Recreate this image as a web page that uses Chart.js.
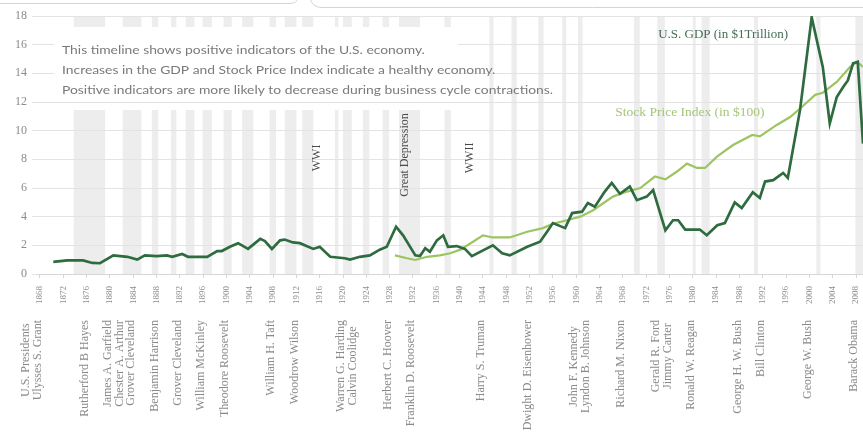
<!DOCTYPE html>
<html>
<head>
<meta charset="utf-8">
<script src="https://cdn.jsdelivr.net/npm/chart.js@4/dist/chart.umd.min.js"></script>
<style>
  html, body { margin: 0; padding: 0; background: #fff; }
  #c { display: block; }
</style>
</head>
<body>
<canvas id="c" width="863" height="432"></canvas>
<script>
// Election years along the time axis
const tickYears = [1868, 1872, 1876, 1880, 1884, 1888, 1892, 1896, 1900, 1904, 1908, 1912,
  1916, 1920, 1924, 1928, 1932, 1936, 1940, 1944, 1948, 1952, 1956, 1960, 1964, 1968,
  1972, 1976, 1980, 1984, 1988, 1992, 1996, 2000, 2004, 2008];

// U.S. GDP, trillions of dollars
const gdpYears = [1870.3, 1872.7, 1875.4, 1877.0, 1878.3, 1880.6, 1883.0, 1884.7, 1886.0, 1888.0,
  1889.8, 1890.7, 1892.4, 1893.4, 1896.7, 1898.4, 1899.2, 1900.6, 1902.0, 1903.7,
  1905.8, 1906.6, 1907.8, 1909.2, 1910.0, 1911.4, 1912.6, 1914.9, 1916.0, 1917.8,
  1920.3, 1921.2, 1922.9, 1924.6, 1926.3, 1927.5, 1929.1, 1930.3, 1932.4, 1933.2,
  1934.1, 1934.9, 1936.1, 1937.2, 1938.0, 1939.5, 1940.9, 1942.1, 1945.7, 1947.3,
  1948.6, 1951.6, 1953.8, 1955.0, 1956.0, 1958.1, 1959.3, 1961.0, 1962.0, 1963.2,
  1964.9, 1966.1, 1967.5, 1969.2, 1970.4, 1972.1, 1973.2, 1975.3, 1976.6, 1977.5,
  1978.7, 1981.2, 1982.4, 1984.2, 1985.5, 1987.2, 1988.4, 1990.3, 1991.5, 1992.4,
  1993.8, 1995.5, 1996.3, 1998.4, 2000.4, 2002.3, 2003.5, 2004.7, 2005.8, 2006.6,
  2007.5, 2008.3, 2009.2];
const gdpValues = [0.84, 0.95, 0.95, 0.77, 0.75, 1.3, 1.2, 1.0, 1.3, 1.25,
  1.3, 1.2, 1.4, 1.2, 1.2, 1.6, 1.6, 1.9, 2.15, 1.75,
  2.45, 2.3, 1.75, 2.35, 2.4, 2.2, 2.15, 1.75, 1.9, 1.2,
  1.1, 1.0, 1.2, 1.3, 1.7, 1.9, 3.3, 2.7, 1.3, 1.25,
  1.8, 1.55, 2.35, 2.7, 1.9, 1.95, 1.75, 1.25, 2.0, 1.45,
  1.3, 1.9, 2.25, 2.95, 3.55, 3.2, 4.25, 4.35, 4.95, 4.7,
  5.75, 6.35, 5.6, 6.1, 5.15, 5.4, 5.85, 3.05, 3.75, 3.75,
  3.1, 3.1, 2.7, 3.4, 3.55, 5.0, 4.6, 5.7, 5.3, 6.45,
  6.55, 7.05, 6.7, 11.45, 17.9, 14.45, 10.5, 12.35, 13.05, 13.5,
  14.7, 14.8, 9.1];

// Stock Price Index, hundreds of dollars
const stockYears = [1928.9, 1931.0, 1932.4, 1934.4, 1936.6, 1938.4, 1940.1, 1942.3, 1944.0, 1945.7,
  1948.6, 1951.6, 1954.3, 1956.0, 1958.4, 1960.7, 1962.9, 1966.3, 1968.7, 1971.0,
  1973.5, 1975.3, 1977.3, 1979.0, 1980.7, 1982.1, 1984.2, 1986.9, 1990.2, 1991.5,
  1994.4, 1996.7, 1998.7, 2001.0, 2002.3, 2004.7, 2007.0, 2008.2, 2009.2];
const stockValues = [1.3, 1.1, 0.98, 1.2, 1.3, 1.45, 1.7, 2.25, 2.7, 2.55,
  2.55, 2.95, 3.2, 3.5, 3.75, 4.0, 4.45, 5.4, 5.75, 6.0,
  6.8, 6.6, 7.15, 7.7, 7.4, 7.4, 8.2, 9.0, 9.7, 9.6,
  10.4, 10.95, 11.65, 12.5, 12.65, 13.4, 14.45, 14.8, 14.45];

// Business cycle contractions (start, end)
const recessionStart = [1873.8, 1882.2, 1887.2, 1890.5, 1893.0, 1895.9, 1899.5, 1902.7, 1907.4, 1910.0,
  1913.0, 1918.6, 1920.0, 1923.4, 1926.8, 1929.6, 1937.4, 1945.1, 1948.9, 1953.5,
  1957.6, 1960.3, 1969.9, 1973.9, 1980.0, 1981.5, 1990.5, 2001.2, 2007.9];
const recessionEnd = [1879.2, 1885.4, 1888.3, 1891.4, 1894.5, 1897.5, 1900.9, 1904.6, 1908.5, 1912.0,
  1914.9, 1919.2, 1921.5, 1924.5, 1927.9, 1933.2, 1938.5, 1945.8, 1949.8, 1954.4,
  1958.3, 1961.1, 1970.9, 1975.2, 1980.5, 1982.9, 1991.2, 2001.9, 2009.5];

// Presidents, grouped by the election tick they sit under
const presidentTicks = [1868, 1876, 1880, 1884, 1888, 1892, 1896, 1900, 1908, 1912, 1920, 1928,
  1932, 1944, 1952, 1960, 1968, 1976, 1980, 1988, 1992, 2000, 2008];
const presidentNames = [
  ['U.S. Presidents', 'Ulysses S. Grant'],
  ['Rutherford B Hayes'],
  ['James A. Garfield', 'Chester A. Arthur'],
  ['Grover Cleveland'],
  ['Benjamin Harrison'],
  ['Grover Cleveland'],
  ['William McKinley'],
  ['Theodore Roosevelt'],
  ['William H. Taft'],
  ['Woodrow Wilson'],
  ['Warren G. Harding', 'Calvin Coolidge'],
  ['Herbert C. Hoover'],
  ['Franklin D. Roosevelt'],
  ['Harry S. Truman'],
  ['Dwight D. Eisenhower'],
  ['John F. Kennedy', 'Lyndon B. Johnson'],
  ['Richard M. Nixon'],
  ['Gerald R. Ford', 'Jimmy Carter'],
  ['Ronald W. Reagan'],
  ['George H. W. Bush'],
  ['Bill Clinton'],
  ['George W. Bush'],
  ['Barack Obama']
];
// which line of each group sits on its tick
const presidentAnchor = [1, 0, 0, 0, 0, 0, 0, 0, 0, 0, 0, 0, 0, 0, 0, 0, 0, 1, 0, 0, 0, 0, 0];

// Historical events marked on the timeline
const eventNames = ['WWI', 'Great Depression', 'WWII'];
const eventYears = [1915.5, 1930.6, 1941.8];
const eventLevel = [8.1, 8.3, 8.1];

const noteLines = [
  'This timeline shows positive indicators of the U.S. economy.',
  'Increases in the GDP and Stock Price Index indicate a healthy economy.',
  'Positive indicators are more likely to decrease during business cycle contractions.'
];

const SERIF = '"Liberation Serif", "DejaVu Serif", serif';
const GDP_COLOR = '#2e6b3f';
const STOCK_COLOR = '#9dc462';

function rotatedText(ctx, text, x, y, align) {
  ctx.save();
  ctx.translate(x, y);
  ctx.rotate(-Math.PI / 2);
  ctx.textAlign = align;
  ctx.textBaseline = 'middle';
  ctx.fillText(text, 0, 0);
  ctx.restore();
}

const timelineDecor = {
  id: 'timelineDecor',
  beforeDraw(chart) {
    const { ctx, chartArea: a, scales: { x } } = chart;
    ctx.save();
    // tab outline along the top edge
    ctx.strokeStyle = '#d4d4d4';
    ctx.lineWidth = 1;
    ctx.beginPath();
    ctx.moveTo(0, 3.5);
    ctx.lineTo(289, 3.5);
    ctx.quadraticCurveTo(297, 3.5, 298, -2);
    ctx.moveTo(310, -2);
    ctx.quadraticCurveTo(312, 7.5, 322, 7.5);
    ctx.lineTo(chart.width, 7.5);
    ctx.stroke();

    // contraction bands
    ctx.fillStyle = '#ededed';
    recessionStart.forEach((s, i) => {
      const x0 = x.getPixelForValue(s);
      const x1 = x.getPixelForValue(recessionEnd[i]);
      ctx.fillRect(x0, a.top, Math.max(x1 - x0, 2), a.bottom - a.top);
    });
    // note box background
    ctx.fillStyle = '#ffffff';
    ctx.fillRect(a.left + 17, 27, 404, 83);
    ctx.restore();
  },
  beforeDatasetsDraw(chart) {
    const { ctx, chartArea: a } = chart;
    ctx.save();
    ctx.fillStyle = '#ffffff';
    ctx.fillRect(a.left + 17, 30, 404, 62);
    ctx.fillStyle = '#7a7a7a';
    ctx.font = '12px Lato, "Open Sans", sans-serif';
    ctx.textAlign = 'left';
    ctx.textBaseline = 'middle';
    ctx.translate(a.left + 25, 0);
    ctx.scale(1.155, 1);
    noteLines.forEach((t, i) => ctx.fillText(t, 0, 50 + i * 20));
    ctx.restore();
  },
  afterDraw(chart) {
    const { ctx, chartArea: a, scales: { x, y } } = chart;
    ctx.save();

    // event labels
    ctx.fillStyle = '#4a4a4a';
    ctx.font = '12px ' + SERIF;
    eventNames.forEach((n, i) => {
      rotatedText(ctx, n, x.getPixelForValue(eventYears[i]), y.getPixelForValue(eventLevel[i]), 'center');
    });

    // series labels
    ctx.font = '13px ' + SERIF;
    ctx.textAlign = 'center';
    ctx.textBaseline = 'middle';
    ctx.fillStyle = '#466e55';
    ctx.fillText('U.S. GDP (in $1Trillion)', x.getPixelForValue(1985.2), y.getPixelForValue(16.7));
    ctx.font = '13.5px ' + SERIF;
    ctx.fillStyle = '#a6c57a';
    ctx.fillText('Stock Price Index (in $100)', x.getPixelForValue(1979.5), y.getPixelForValue(11.3));

    // president names below the election years
    ctx.fillStyle = '#8a8a8a';
    ctx.font = '12px ' + SERIF;
    const top = a.bottom + 46;
    const lineGap = 12;
    presidentTicks.forEach((t, g) => {
      const lines = presidentNames[g];
      const widest = Math.max(...lines.map(s => ctx.measureText(s).width));
      const mid = top + widest / 2;
      const px = x.getPixelForValue(t);
      lines.forEach((s, k) => {
        rotatedText(ctx, s, px + (k - presidentAnchor[g]) * lineGap - 2, mid, 'center');
      });
    });
    ctx.restore();
  }
};

const chart = new Chart(document.getElementById('c'), {
  type: 'line',
  data: {
    datasets: [
      {
        label: 'U.S. GDP (in $1Trillion)',
        data: gdpYears.map((yr, i) => ({ x: yr, y: gdpValues[i] })),
        borderColor: GDP_COLOR,
        borderWidth: 2.7,
        pointRadius: 0,
        tension: 0,
        fill: false
      },
      {
        label: 'Stock Price Index (in $100)',
        data: stockYears.map((yr, i) => ({ x: yr, y: stockValues[i] })),
        borderColor: STOCK_COLOR,
        borderWidth: 2.2,
        pointRadius: 0,
        tension: 0,
        fill: false
      }
    ]
  },
  options: {
    responsive: false,
    devicePixelRatio: 1,
    animation: false,
    layout: { padding: { top: 16, right: 0, left: 0, bottom: 0 } },
    plugins: { legend: { display: false }, tooltip: { enabled: false } },
    scales: {
      x: {
        type: 'linear',
        min: 1867.5,
        max: 2009.2,
        afterBuildTicks: ax => { ax.ticks = tickYears.map(v => ({ value: v })); },
        afterFit: s => { s.height = 158; s.paddingLeft = 0; s.paddingRight = 0; },
        grid: { drawOnChartArea: false, drawTicks: true, tickLength: 4, color: '#d6d6d6' },
        border: { color: '#d6d6d6' },
        ticks: {
          autoSkip: false,
          minRotation: 90,
          maxRotation: 90,
          padding: 8,
          color: '#8c8c8c',
          font: { family: SERIF, size: 9 },
          callback: v => String(v)
        }
      },
      y: {
        min: 0,
        max: 18,
        afterFit: s => { s.width = 37; },
        grid: { color: '#e3e3e3', tickLength: 5 },
        border: { display: false },
        ticks: {
          stepSize: 2,
          padding: 5,
          color: '#8c8c8c',
          font: { family: SERIF, size: 12 }
        }
      }
    }
  },
  plugins: [timelineDecor]
});
</script>
</body>
</html>
